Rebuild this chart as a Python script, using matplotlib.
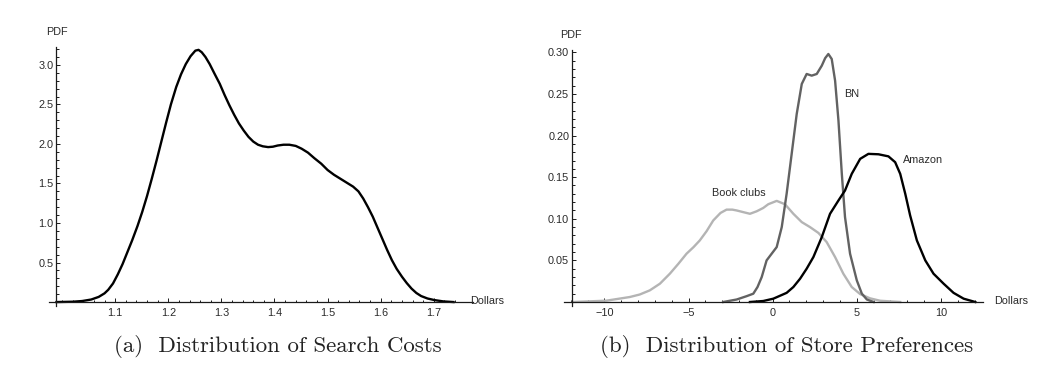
import matplotlib
matplotlib.use("Agg")
import matplotlib.pyplot as plt
import numpy as np

# ---------------- data ----------------
search_x = [0.9896, 1.020, 1.038, 1.055, 1.069, 1.080, 1.087, 1.096, 1.105, 1.114,
            1.123, 1.132, 1.142, 1.151, 1.160, 1.169, 1.178, 1.187, 1.196, 1.205,
            1.215, 1.224, 1.233, 1.242, 1.251, 1.257, 1.263, 1.270, 1.278, 1.287,
            1.297, 1.306, 1.315, 1.324, 1.333, 1.342, 1.351, 1.360, 1.369, 1.378,
            1.388, 1.397, 1.406, 1.417, 1.428, 1.440, 1.451, 1.463, 1.475, 1.488,
            1.500, 1.512, 1.524, 1.536, 1.548, 1.558, 1.567, 1.576, 1.585, 1.594,
            1.603, 1.612, 1.621, 1.630, 1.640, 1.649, 1.658, 1.667, 1.676, 1.688,
            1.701, 1.718, 1.737]
search_y = [0.0, 0.004, 0.013, 0.032, 0.065, 0.11, 0.155, 0.235, 0.35, 0.48,
            0.63, 0.78, 0.96, 1.14, 1.34, 1.56, 1.79, 2.03, 2.27, 2.50,
            2.72, 2.88, 3.01, 3.11, 3.18, 3.19, 3.16, 3.10, 3.01, 2.89,
            2.76, 2.62, 2.49, 2.37, 2.26, 2.17, 2.09, 2.03, 1.99, 1.97,
            1.96, 1.965, 1.98, 1.99, 1.99, 1.975, 1.94, 1.89, 1.82, 1.75,
            1.67, 1.61, 1.56, 1.51, 1.46, 1.40, 1.31, 1.20, 1.08, 0.94,
            0.80, 0.66, 0.53, 0.42, 0.32, 0.24, 0.17, 0.115, 0.076, 0.045,
            0.025, 0.008, 0.0]

amazon_x = [-1.35, -0.56, 0.04, 0.83, 1.23, 1.63, 2.02, 2.42, 2.92, 3.41, 3.91, 4.30, 4.70,
            5.20, 5.69, 6.29, 6.88, 7.28, 7.58, 7.88, 8.17, 8.57, 9.07, 9.56,
            10.16, 10.75, 11.35, 12.04]
amazon_y = [0.0, 0.0012, 0.004, 0.011, 0.018, 0.028, 0.040, 0.054, 0.078, 0.106, 0.122, 0.134, 0.154,
            0.172, 0.178, 0.1775, 0.175, 0.168, 0.154, 0.130, 0.104, 0.074, 0.050, 0.034,
            0.022, 0.011, 0.004, 0.0]

bn_x = [-2.94, -2.14, -1.55, -1.15, -0.90, -0.65, -0.36, -0.06, 0.24, 0.54, 0.83, 1.13,
        1.43, 1.73, 2.02, 2.32, 2.62, 2.92, 3.12, 3.31, 3.51, 3.71, 3.91, 4.11, 4.30,
        4.60, 5.00, 5.30, 5.60, 6.00]
bn_y = [0.0, 0.003, 0.007, 0.010, 0.018, 0.030, 0.050, 0.058, 0.066, 0.090, 0.130, 0.178,
        0.226, 0.262, 0.274, 0.272, 0.274, 0.284, 0.293, 0.298, 0.292, 0.266, 0.218, 0.154, 0.102,
        0.058, 0.026, 0.010, 0.003, 0.0]

club_x = [-11.87, -9.88, -8.49, -7.90, -7.30, -6.70, -6.11, -5.60, -5.12, -4.70, -4.33,
          -3.93, -3.53, -3.10, -2.74, -2.40, -2.14, -1.75, -1.35, -0.95, -0.56, -0.26,
          0.24, 0.73, 1.23, 1.73, 2.22, 2.72, 3.21, 3.71, 4.20, 4.70, 5.20, 5.79,
          6.39, 7.58]
club_y = [0.0, 0.0016, 0.006, 0.009, 0.014, 0.022, 0.034, 0.046, 0.058, 0.066, 0.074,
          0.085, 0.098, 0.107, 0.111, 0.111, 0.110, 0.108, 0.106, 0.109, 0.113, 0.1175,
          0.1215, 0.1175, 0.106, 0.096, 0.090, 0.083, 0.072, 0.054, 0.034, 0.018, 0.0095, 0.0044,
          0.0015, 0.0]

left_xticks = [1.1, 1.2, 1.3, 1.4, 1.5, 1.6, 1.7]
left_xticklabels = ["1.1", "1.2", "1.3", "1.4", "1.5", "1.6", "1.7"]
left_yticks = [0.5, 1.0, 1.5, 2.0, 2.5, 3.0]
left_yticklabels = ["0.5", "1.0", "1.5", "2.0", "2.5", "3.0"]
right_xticks = [-10, -5, 0, 5, 10]
right_xticklabels = ["\u221210", "\u22125", "0", "5", "10"]
right_yticks = [0.05, 0.10, 0.15, 0.20, 0.25, 0.30]
right_yticklabels = ["0.05", "0.10", "0.15", "0.20", "0.25", "0.30"]

captions = ["(a)  Distribution of Search Costs", "(b)  Distribution of Store Preferences"]
series_labels = ["Book clubs", "BN", "Amazon"]

# ---------------- figure ----------------
W, H = 1051, 376
fig = plt.figure(figsize=(W / 100, H / 100), dpi=100)
SANS = "Liberation Sans"
FS = 7.8
TXT = "#2a2a2a"
AXC = "#1a1a1a"


def px_axes(x0, x1, ytop, ybot):
    return fig.add_axes([x0 / W, 1 - ybot / H, (x1 - x0) / W, (ybot - ytop) / H])


def style(ax, yaxis_x):
    for s in ("top", "right"):
        ax.spines[s].set_visible(False)
    ax.spines["left"].set_position(("data", yaxis_x))
    ax.spines["bottom"].set_position(("data", 0))
    for s in ("left", "bottom"):
        ax.spines[s].set_linewidth(0.9)
        ax.spines[s].set_color(AXC)
    ax.tick_params(which="both", direction="in", color=AXC, width=0.7,
                   labelsize=FS, labelcolor=TXT)
    ax.tick_params(which="major", length=3.2)
    ax.tick_params(which="minor", length=1.8)
    ax.tick_params(axis="x", pad=4)
    ax.tick_params(axis="y", pad=2)
    for lab in ax.get_xticklabels() + ax.get_yticklabels():
        lab.set_fontfamily(SANS)
    ax.patch.set_alpha(0)


# ----- left panel -----
axL = px_axes(49, 473, 46.7, 306)
axL.set_xlim(0.9755, 1.7737)
axL.set_ylim(-0.05, 3.23)
axL.plot(search_x, search_y, color="black", lw=1.7, solid_joinstyle="round")
axL.set_xticks(left_xticks)
axL.set_xticklabels(left_xticklabels)
axL.set_xticks(np.arange(1.0, 1.745, 0.02), minor=True)
axL.set_yticks(left_yticks)
axL.set_yticklabels(left_yticklabels)
axL.set_yticks(np.arange(0.1, 3.25, 0.1), minor=True)
style(axL, 0.9896)
axL.text(0.9896, 3.42, "PDF", ha="center", va="center", fontsize=FS,
         family=SANS, color=TXT, clip_on=False)
axL.text(1.769, 0.01, "Dollars", ha="left", va="center", fontsize=FS,
         family=SANS, color=TXT, clip_on=False)

# ----- right panel -----
axR = px_axes(564, 983, 50, 306)
axR.set_xlim(-12.4, 12.5)
axR.set_ylim(-0.0048, 0.3028)
axR.plot(club_x, club_y, color="#b4b4b4", lw=1.7, solid_joinstyle="round")
axR.plot(bn_x, bn_y, color="#626262", lw=1.7, solid_joinstyle="round")
axR.plot(amazon_x, amazon_y, color="black", lw=1.7, solid_joinstyle="round")
axR.set_xticks(right_xticks)
axR.set_xticklabels(right_xticklabels)
axR.set_xticks(np.arange(-12, 12.5, 1), minor=True)
axR.set_yticks(right_yticks)
axR.set_yticklabels(right_yticklabels)
axR.set_yticks(np.arange(0.01, 0.305, 0.01), minor=True)
style(axR, -11.93)
axR.text(-11.99, 0.321, "PDF", ha="center", va="center", fontsize=FS,
         family=SANS, color=TXT, clip_on=False)
axR.text(13.17, 0.001, "Dollars", ha="left", va="center", fontsize=FS,
         family=SANS, color=TXT, clip_on=False)
axR.text(-2.0, 0.131, series_labels[0], ha="center", va="center", fontsize=FS,
         family=SANS, color=TXT)
axR.text(4.70, 0.250, series_labels[1], ha="center", va="center", fontsize=FS,
         family=SANS, color=TXT)
axR.text(8.95, 0.171, series_labels[2], ha="center", va="center", fontsize=FS,
         family=SANS, color=TXT)

# ----- captions -----
fig.text(278 / W, 1 - 346 / H, captions[0], ha="center", va="center",
         fontsize=16.5, family="cmr10", color="#222222")
fig.text(787 / W, 1 - 346 / H, captions[1], ha="center", va="center",
         fontsize=16.5, family="cmr10", color="#222222")

fig.savefig("out.png", dpi=100, facecolor="white")
